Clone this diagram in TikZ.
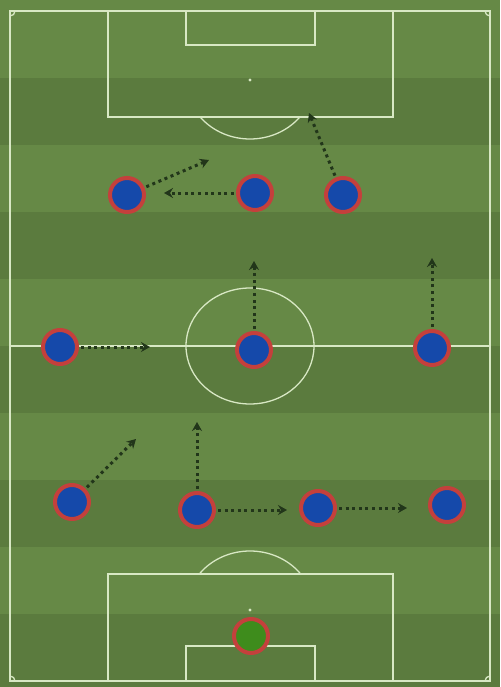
\documentclass[tikz,border=0pt]{standalone}
\usepackage{tikz}
\usetikzlibrary{arrows.meta, positioning}
\definecolor{GrassLight}{HTML}{668946}
\definecolor{GrassDark}{HTML}{5B7B3E}
\definecolor{LineWhite}{HTML}{D8E8C4}
\definecolor{ShirtBlue}{HTML}{1549AA}
\definecolor{ShirtRed}{HTML}{C4403C}
\definecolor{KeeperGreen}{HTML}{3E8C1C}
\definecolor{RunGreen}{HTML}{22361A}
\tikzset{
  pitchline/.style={draw=LineWhite, line width=1.3pt},
  player/.style={circle, fill=ShirtBlue, draw=ShirtRed, line width=4pt, minimum size=34pt, inner sep=0pt},
  keeper/.style={player, fill=KeeperGreen},
  runarrow/.style={-{Stealth[length=9pt, width=10pt, inset=3pt]}, RunGreen, line width=3pt, dash pattern=on 3pt off 3.6pt, shorten <=2pt}
}
\begin{document}
\begin{tikzpicture}[x=1pt, y=-1pt]
  \useasboundingbox (0,0) rectangle (500,687);

  % Grass stripes
  \fill[GrassLight] (0,0) rectangle (500,687);
  \foreach \y in {78,212,346,480,614} {
    \fill[GrassDark] (0,\y) rectangle (500,\y+67);
  }
  \fill[GrassDark] (0,681) rectangle (500,687);

  % Markings
  \draw[pitchline] (10,11) rectangle (490,681);
  \draw[pitchline] (10,346) -- (490,346);
  \draw[pitchline] (250,346) ellipse [x radius=64, y radius=58];
  \draw[pitchline] (108,11) rectangle (393,117);
  \draw[pitchline] (186,11) rectangle (315,45);
  \draw[pitchline] (108,681) rectangle (393,574);
  \draw[pitchline] (186,681) rectangle (315,646);
  \fill[LineWhite] (250,80) circle (1.6);
  \fill[LineWhite] (250,610) circle (1.6);
  \begin{scope}
    \clip (10,117) rectangle (490,200);
    \draw[pitchline] (250,80) ellipse [x radius=64, y radius=59];
  \end{scope}
  \begin{scope}
    \clip (10,500) rectangle (490,574);
    \draw[pitchline] (250,610) ellipse [x radius=64, y radius=59];
  \end{scope}
  \draw[pitchline] (15,11) arc[start angle=0, end angle=90, radius=5];
  \draw[pitchline] (485,11) arc[start angle=180, end angle=90, radius=5];
  \draw[pitchline] (15,681) arc[start angle=0, end angle=-90, radius=5];
  \draw[pitchline] (485,681) arc[start angle=180, end angle=270, radius=5];

  % Players
  \node[player] (lw) at (127,195) {};
  \node[player] (cf) at (255,193) {};
  \node[player] (rw) at (343,195) {};
  \node[player] (lm) at (60,347) {};
  \node[player] (cm) at (254,350) {};
  \node[player] (rm) at (432,348) {};
  \node[player] (lb) at (72,502) {};
  \node[player] (lcb) at (197,510) {};
  \node[player] (rcb) at (318,508) {};
  \node[player] (rb) at (447,505) {};
  \node[keeper] (gk) at (251,636) {};

  % Run targets
  \coordinate (lwTo) at (209,160);
  \coordinate (cfTo) at (164,193);
  \coordinate (rwTo) at (309,113);
  \coordinate (cmTo) at (254,261);
  \coordinate (rmTo) at (432,258);
  \coordinate (lmTo) at (150,347);
  \coordinate (lbTo) at (136,439);
  \coordinate (lcbTo) at (197,422);
  \coordinate (rcbTo) at (287,510);
  \coordinate (rbTo) at (407,508);

  % Runs
  \draw[runarrow] (lw) -- (lwTo);
  \draw[runarrow] (cf) -- (cfTo);
  \draw[runarrow] (rw) -- (rwTo);
  \draw[runarrow] (cm) -- (cmTo);
  \draw[runarrow] (rm) -- (rmTo);
  \draw[runarrow] (lm) -- (lmTo);
  \draw[runarrow] (lb) -- (lbTo);
  \draw[runarrow] (lcb) -- (lcbTo);
  \draw[runarrow] (lcb) -- (rcbTo);
  \draw[runarrow] (rcb) -- (rbTo);
\end{tikzpicture}
\end{document}
